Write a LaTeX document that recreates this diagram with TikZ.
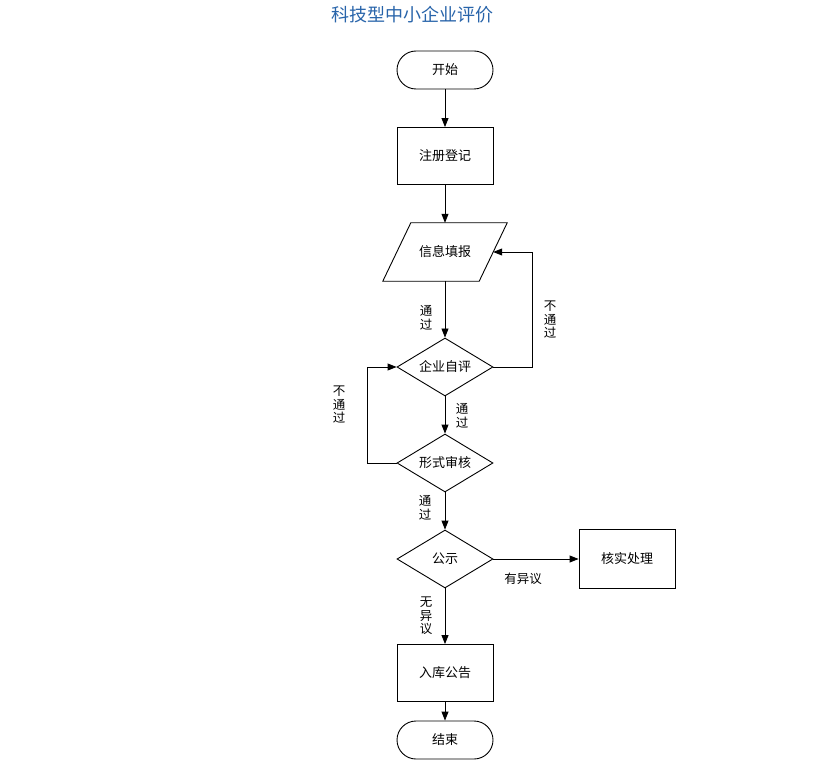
\documentclass[tikz,border=0pt]{standalone}
\usepackage{fontspec}
\setmainfont{Noto Sans CJK SC}
\usetikzlibrary{arrows.meta,shapes.geometric}
\definecolor{titleblue}{RGB}{40,100,170}
\begin{document}
\begin{tikzpicture}[x=1pt,y=-1pt,
  every node/.style={font=\fontsize{13}{15}\selectfont},
  box/.style={draw, line width=0.9pt, minimum width=96pt, minimum height=57pt, inner sep=0pt},
  term/.style={draw, line width=0.9pt, rounded corners=19pt, minimum width=96pt, minimum height=38pt, inner sep=0pt},
  dec/.style={draw, diamond, aspect=1.65, line width=0.9pt, minimum width=96pt, minimum height=58pt, inner sep=0pt},
  arr/.style={-{Triangle[length=9pt,width=7pt]}, line width=0.9pt},
  lab/.style={font=\fontsize{12.5}{13.5}\selectfont, align=center, inner sep=0pt}]
\useasboundingbox[fill=white] (0,0) rectangle (826,767);
\node[font=\fontsize{18}{20}\selectfont, text=titleblue] (title) at (412,15) {科技型中小企业评价};
\node[term] (start) at (445,70) {开始};
\node[box] (reg) at (445,156) {注册登记};
\node[minimum width=96pt, minimum height=58pt, inner sep=0pt] (info) at (445,252) {信息填报};
\draw[line width=0.9pt] ([xshift=14pt]info.north west) -- ([xshift=14pt]info.north east) -- ([xshift=-14pt]info.south east) -- ([xshift=-14pt]info.south west) -- cycle;
\node[dec] (self) at (445,367) {企业自评};
\node[dec] (form) at (445,463) {形式审核};
\node[dec] (pub) at (445,559) {公示};
\node[box, minimum height=59pt] (check) at (627,559) {核实处理};
\node[box] (lib) at (445,673) {入库公告};
\node[term] (end) at (445,740) {结束};

\draw[arr] (start) -- (reg);
\draw[arr] (reg) -- (info.north);
\draw[arr] (info.south) -- (self);
\draw[arr] (self.east) -- ++(39,0) |- (info.east);
\draw[arr] (self) -- (form);
\draw[arr] (form.west) -- ++(-29,0) |- (self.west);
\draw[arr] (form) -- (pub);
\draw[arr] (pub) -- (check);
\draw[arr] (pub) -- (lib);
\draw[arr] (lib) -- (end);

\node[lab] (l1) at (426,318) {通\\过};
\node[lab] (l2) at (550,320) {不\\通\\过};
\node[lab] (l3) at (339,405) {不\\通\\过};
\node[lab] (l4) at (462,416) {通\\过};
\node[lab] (l5) at (425,508) {通\\过};
\node[lab] (l6) at (523,579) {有异议};
\node[lab] (l7) at (426,616) {无\\异\\议};
\end{tikzpicture}
\end{document}
